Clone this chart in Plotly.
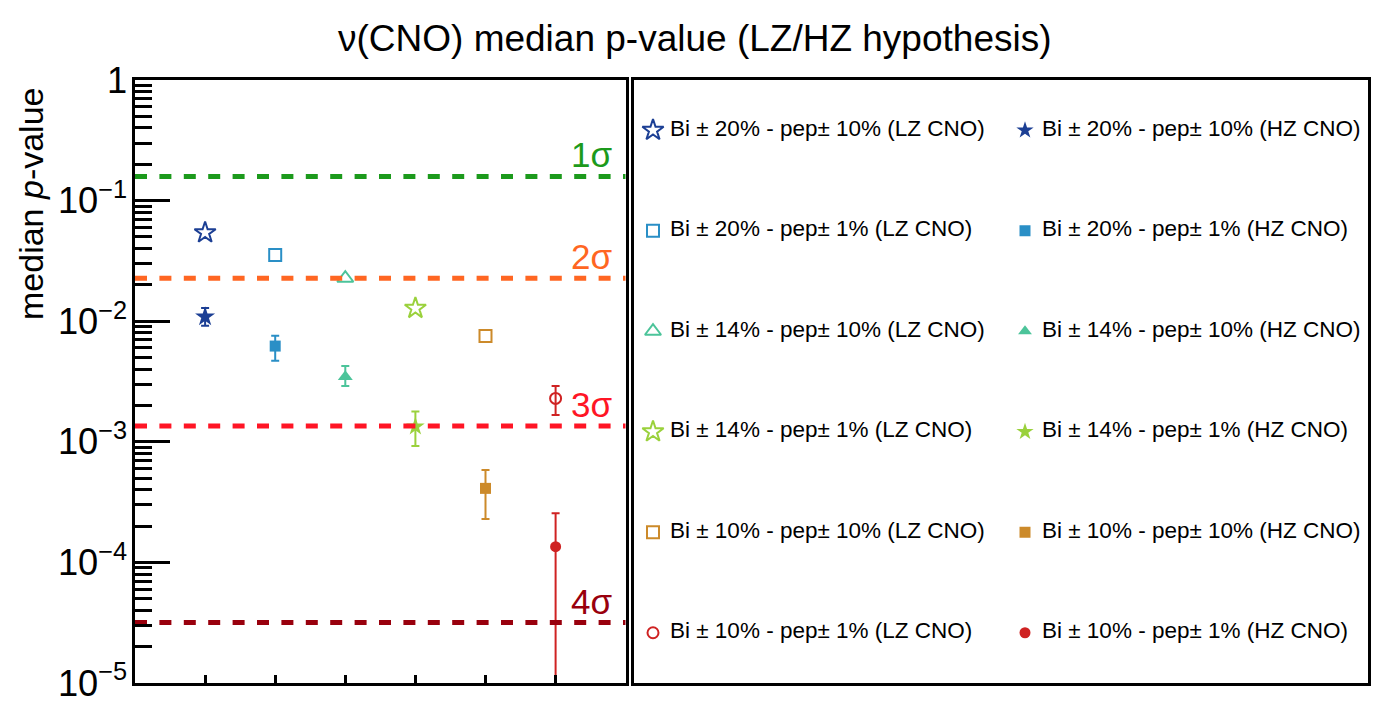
import plotly.graph_objects as go
import math

# ---------------- data ----------------
positions = [1, 2, 3, 4, 5, 6]
labels = [
    "Bi \u00b1 20% - pep\u00b1 10%",
    "Bi \u00b1 20% - pep\u00b1 1%",
    "Bi \u00b1 14% - pep\u00b1 10%",
    "Bi \u00b1 14% - pep\u00b1 1%",
    "Bi \u00b1 10% - pep\u00b1 10%",
    "Bi \u00b1 10% - pep\u00b1 1%",
]
colors = ["#1c3f94", "#2a8fc6", "#4cc49a", "#9ad13c", "#cc8a2a", "#cf2222"]

lz_vals = [0.0542, 0.0354, 0.0227, 0.0128, 0.00754, 0.00229]
lz_hi = [None, None, None, None, None, 0.0029]
lz_lo = [None, None, None, None, None, 0.00167]

hz_vals = [0.0109, 0.00622, 0.00347, 0.00134, 0.000411, 0.000135]
hz_hi = [0.01286, 0.00758, 0.00425, 0.00178, 0.000583, 0.000255]
hz_lo = [0.00918, 0.0047, 0.0029, 0.000923, 0.000229, 1e-6]

lz_symbols = ["star-open", "square-open", "triangle-up-open", "star-open", "square-open", "circle-open"]
hz_symbols = ["star", "square", "triangle-up", "star", "square", "circle"]
lz_sizes = [16, 12, 14, 16, 12, 11]
hz_sizes = [15, 11, 13, 14, 11, 11]

sigma_labels = ["1\u03c3", "2\u03c3", "3\u03c3", "4\u03c3"]
sigma_p = [0.1587, 0.02275, 0.00135, 3.17e-5]
sigma_colors = ["#1c9a1c", "#ff6622", "#ff1525", "#99000d"]

# ---------------- layout constants ----------------
W, H = 1386, 724
FONT = "Liberation Sans, Arial, sans-serif"
px_l, px_r, px_t, px_b = 135, 625.7, 80, 683
lg_l, lg_r = 634, 1368

fig = go.Figure()

# data points
for i, x in enumerate(positions):
    c = colors[i]
    ey = None
    if lz_hi[i] is not None:
        ey = dict(type="data", symmetric=False,
                  array=[lz_hi[i] - lz_vals[i]], arrayminus=[lz_vals[i] - lz_lo[i]],
                  color=c, thickness=2, width=4)
    fig.add_trace(go.Scatter(x=[x], y=[lz_vals[i]], mode="markers",
                             marker=dict(symbol=lz_symbols[i], size=lz_sizes[i], color=c,
                                         line=dict(color=c, width=2)),
                             error_y=ey, showlegend=False, xaxis="x", yaxis="y"))
    fig.add_trace(go.Scatter(x=[x], y=[hz_vals[i]], mode="markers",
                             marker=dict(symbol=hz_symbols[i], size=hz_sizes[i], color=c,
                                         line=dict(width=0)),
                             error_y=dict(type="data", symmetric=False,
                                          array=[hz_hi[i] - hz_vals[i]],
                                          arrayminus=[hz_vals[i] - hz_lo[i]],
                                          color=c, thickness=2, width=4),
                             showlegend=False, xaxis="x", yaxis="y"))

# sigma lines
for p, c in zip(sigma_p, sigma_colors):
    fig.add_trace(go.Scatter(x=[0, 7], y=[p, p], mode="lines",
                             line=dict(color=c, width=5, dash="12px,12.4px"),
                             showlegend=False, hoverinfo="skip", xaxis="x", yaxis="y"))

for lab, p, c in zip(sigma_labels, sigma_p, sigma_colors):
    fig.add_annotation(x=6.83, y=math.log10(p), xref="x", yref="y", text=lab,
                       showarrow=False, xanchor="right", yanchor="bottom", yshift=0,
                       font=dict(family=FONT, size=35, color=c))

# custom legend panel (second axes)
text_off = 17 / 372
for col, (vals_sym, sizes, tag) in enumerate([(lz_symbols, [16, 12, 14, 16, 12, 11], "LZ CNO"),
                                               (hz_symbols, [13, 11, 12, 13, 11, 11], "HZ CNO")]):
    for i in range(6):
        c = colors[i]
        fig.add_trace(go.Scatter(x=[col], y=[i + 1], mode="markers",
                                 marker=dict(symbol=vals_sym[i], size=sizes[i], color=c,
                                             line=dict(color=c, width=2 if col == 0 else 0)),
                                 showlegend=False, hoverinfo="skip", xaxis="x2", yaxis="y2"))
    fig.add_trace(go.Scatter(x=[col + text_off] * 6, y=list(range(1, 7)), mode="text",
                             text=[f"{l} ({tag})" for l in labels],
                             textposition="middle right",
                             textfont=dict(family=FONT, size=22.5, color="black"),
                             showlegend=False, hoverinfo="skip", xaxis="x2", yaxis="y2"))

fig.update_layout(
    width=W, height=H,
    margin=dict(l=0, r=0, t=0, b=0),
    paper_bgcolor="white", plot_bgcolor="white",
    font=dict(family=FONT, color="black"),
    xaxis=dict(domain=[px_l / W, px_r / W], range=[0, 7], automargin=False,
               tickvals=positions, showticklabels=False,
               ticks="inside", ticklen=8, tickwidth=2.5, tickcolor="black",
               showline=True, linewidth=3, linecolor="black", mirror=True,
               showgrid=False, zeroline=False),
    yaxis=dict(domain=[1 - px_b / H, 1 - px_t / H], type="log", range=[-5, 0],
               automargin=False,
               dtick=1, exponentformat="power",
               ticks="inside", ticklen=35, tickwidth=2.5, tickcolor="black",
               tickfont=dict(family=FONT, size=29, color="black"),
               ticklabelstandoff=-1,
               minor=dict(ticks="inside", ticklen=17, tickwidth=2.5, tickcolor="black", dtick="D1",
                          showgrid=False),
               showline=True, linewidth=3, linecolor="black", mirror=True,
               showgrid=False, zeroline=False),
    xaxis2=dict(domain=[lg_l / W, lg_r / W], range=[-19 / 372, (lg_r - 653) / 372],
                automargin=False,
                showticklabels=False, ticks="", showgrid=False, zeroline=False,
                showline=True, linewidth=3, linecolor="black", mirror=True, anchor="y2"),
    yaxis2=dict(domain=[1 - px_b / H, 1 - px_t / H], range=[6.5, 0.5],
                automargin=False,
                showticklabels=False, ticks="", showgrid=False, zeroline=False,
                showline=True, linewidth=3, linecolor="black", mirror=True, anchor="x2"),
)

fig.add_annotation(x=695 / W, y=1 - 38 / H, xref="paper", yref="paper",
                   text="\u03bd(CNO) median p-value (LZ/HZ hypothesis)", showarrow=False,
                   xanchor="center", yanchor="middle",
                   font=dict(family=FONT, size=37, color="black"))
fig.add_annotation(x=31 / W, y=1 - 204 / H, xref="paper", yref="paper",
                   text="median <i>p</i>-value", showarrow=False, textangle=-90,
                   xanchor="center", yanchor="middle",
                   font=dict(family=FONT, size=34, color="black"))

fig.write_html("out.html")
